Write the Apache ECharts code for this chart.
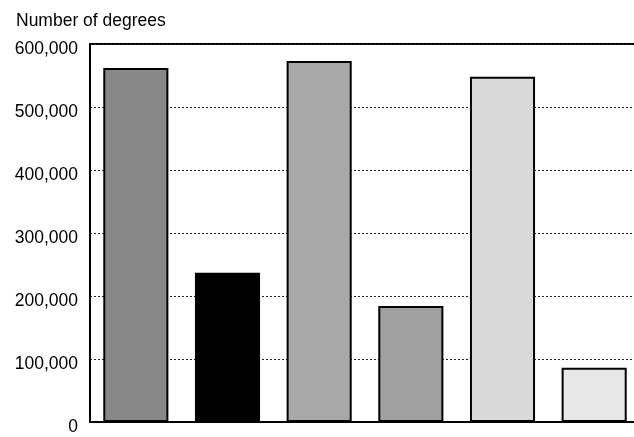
<!DOCTYPE html>
<html><head><meta charset="utf-8">
<script src="https://cdn.jsdelivr.net/npm/echarts@6/dist/echarts.min.js"></script>
<style>html,body{margin:0;padding:0;background:#fff}#c{width:634px;height:437px}</style>
</head><body><div id="c"></div>
<script>
const categories = ['A','B','C','D','E','F'];
const values = [562000, 237000, 573000, 184000, 548000, 86000];
const barColors = ['#888888', '#000000', '#a8a8a8', '#a0a0a0', '#d9d9d9', '#e8e8e8'];
const yTicks = [0, 100000, 200000, 300000, 400000, 500000, 600000];

const chart = echarts.init(document.getElementById('c'), null, {renderer:'canvas'});
chart.setOption({
  animation: false,
  backgroundColor: '#fff',
  title: {
    text: 'Number of degrees', left: 11, top: 7,
    textStyle: {fontFamily: 'Liberation Sans, Arial, sans-serif', fontSize: 17.5, fontWeight: 'normal', color: '#000'}
  },
  grid: {left: 90, top: 44, width: 550, height: 378, outerBoundsMode: 'none', containLabel: false,
         show: true, borderColor: '#000', borderWidth: 2, backgroundColor: 'transparent'},
  xAxis: {
    type: 'category', data: categories,
    axisLine: {show: true, lineStyle: {color: '#000', width: 2}},
    axisTick: {show: false}, axisLabel: {show: false}
  },
  yAxis: {
    type: 'value', min: yTicks[0], max: yTicks[yTicks.length-1], interval: 100000,
    axisLine: {show: true, lineStyle: {color: '#000', width: 2}},
    axisTick: {show: false},
    axisLabel: {
      margin: 12, color: '#000', fontSize: 17.5, fontFamily: 'Liberation Sans, Arial, sans-serif',
      verticalAlign: 'top', lineHeight: 10,
      formatter: v => v.toLocaleString('en-US')
    },
    splitLine: {show: true, lineStyle: {color: '#222', type: [2, 2], width: 1}}
  },
  series: [{
    type: 'bar', barCategoryGap: '29%',
    data: values.map((v, i) => ({value: v, itemStyle: {color: barColors[i]}})),
    itemStyle: {borderColor: '#000', borderWidth: 2}
  }]
});
</script></body></html>
